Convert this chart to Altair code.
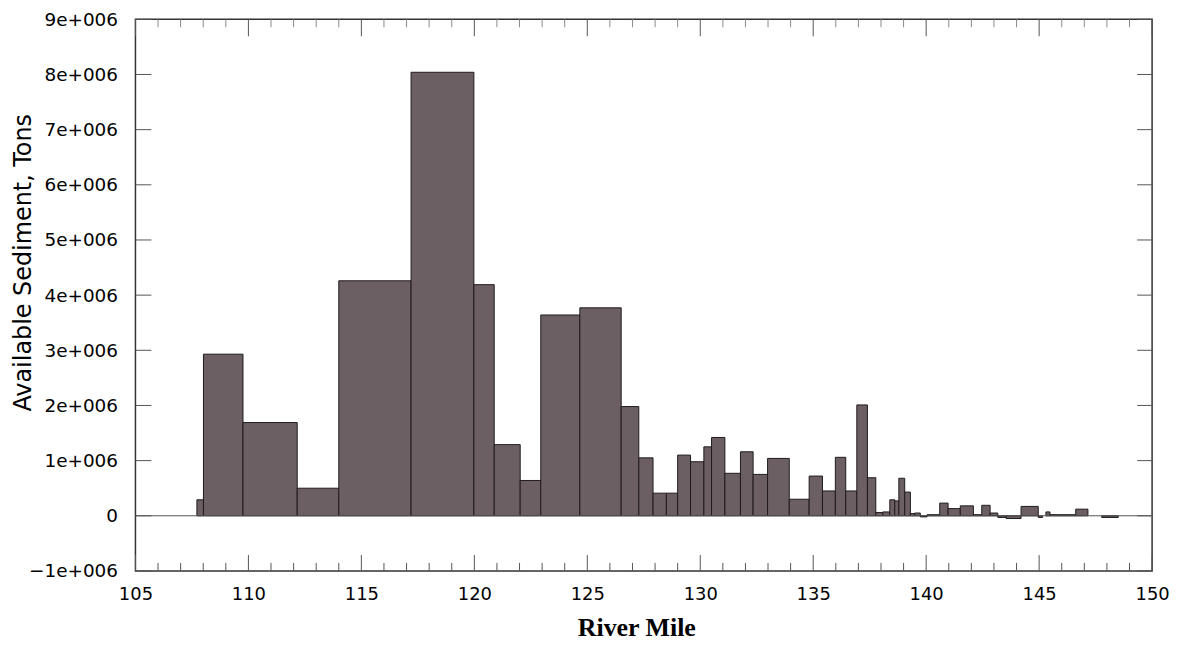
import altair as alt
import pandas as pd

# River-mile reach boundaries and available sediment (tons)
starts = [107.72, 108.01, 109.76, 112.16, 114.00, 117.20, 119.98, 120.88, 122.03, 122.94,
          124.67, 126.50, 127.28, 127.91, 128.50, 129.00, 129.57, 130.16, 130.50, 131.09,
          131.78, 132.34, 132.98, 133.94, 134.82, 135.41, 135.98, 136.44, 136.93, 137.40,
          137.77, 138.08, 138.39, 138.61, 138.79, 139.05, 139.30, 139.49, 139.74, 140.04,
          140.60, 140.97, 141.51, 142.09, 142.46, 142.83, 143.17, 143.54, 144.20, 144.96,
          145.30, 145.48, 146.62, 147.77]
ends = [108.01, 109.76, 112.16, 114.00, 117.20, 119.98, 120.88, 122.03, 122.94, 124.67,
        126.50, 127.28, 127.91, 128.50, 129.00, 129.57, 130.16, 130.50, 131.09, 131.78,
        132.34, 132.98, 133.94, 134.82, 135.41, 135.98, 136.44, 136.93, 137.40, 137.77,
        138.08, 138.39, 138.61, 138.79, 139.05, 139.30, 139.49, 139.74, 140.04, 140.60,
        140.97, 141.51, 142.09, 142.46, 142.83, 143.17, 143.54, 144.20, 144.96, 145.15,
        145.48, 146.62, 147.16, 148.50]
tons = [0.29e6, 2.93e6, 1.69e6, 0.50e6, 4.26e6, 8.04e6, 4.19e6, 1.29e6, 0.64e6, 3.64e6,
        3.77e6, 1.98e6, 1.05e6, 0.41e6, 0.41e6, 1.10e6, 0.98e6, 1.25e6, 1.42e6, 0.77e6,
        1.16e6, 0.75e6, 1.04e6, 0.30e6, 0.72e6, 0.45e6, 1.06e6, 0.45e6, 2.01e6, 0.69e6,
        0.06e6, 0.07e6, 0.29e6, 0.27e6, 0.68e6, 0.43e6, 0.04e6, 0.05e6, -0.02e6, 0.02e6,
        0.23e6, 0.13e6, 0.18e6, 0.02e6, 0.19e6, 0.05e6, -0.03e6, -0.05e6, 0.17e6, -0.03e6,
        0.07e6, 0.02e6, 0.12e6, -0.03e6]

x_label_values = [105, 110, 115, 120, 125, 130, 135, 140, 145, 150]
x_tick_miles = list(range(105, 151))
y_tick_values = [-1e6, 0, 1e6, 2e6, 3e6, 4e6, 5e6, 6e6, 7e6, 8e6, 9e6]

bars_df = pd.DataFrame({"start": starts, "end": ends, "tons": tons, "base": [0] * len(tons)})
xt_df = pd.DataFrame({"mile": x_tick_miles, "major": [1 if m % 5 == 0 else 0 for m in x_tick_miles]})
yt_df = pd.DataFrame({"v": y_tick_values})
zero_df = pd.DataFrame({"v": [0]})

W, H = 1021, 554
xs = alt.Scale(domain=[105, 150], nice=False, zero=False)
ys = alt.Scale(domain=[-1e6, 9e6], nice=False, zero=False)

x_axis = alt.Axis(values=x_label_values, format="d", labelFont="DejaVu Sans", labelFontSize=18,
                  labelColor="#000", labelPadding=15, ticks=False, tickSize=0, domain=False,
                  grid=False, labelFlush=False, title="River Mile", titleFont="Liberation Serif",
                  titleFontSize=26, titleFontWeight="bold", titleColor="#000", titleX=503,
                  titleY=65, titleAlign="center", titleBaseline="alphabetic")
y_axis = alt.Axis(values=y_tick_values,
                  labelExpr="datum.value == 0 ? '0' : replace(format(datum.value, '.0e'), 'e+', 'e+00')",
                  labelFont="DejaVu Sans", labelFontSize=18.5, labelColor="#000", labelPadding=18,
                  ticks=False, tickSize=0, domain=False, grid=False,
                  title="Available Sediment, Tons", titleFont="DejaVu Sans", titleFontSize=24,
                  titleFontWeight="normal", titleColor="#000", titleX=-105, titleY=244,
                  titleAlign="center", titleBaseline="alphabetic")

X_START = alt.X("start:Q", scale=xs, axis=x_axis, title="River Mile")
Y_TONS = alt.Y("tons:Q", scale=ys, axis=y_axis, title="Available Sediment, Tons")

bars = alt.Chart(bars_df).mark_rect(fill="#6c5f64", stroke="#1e1a1c", strokeWidth=1).encode(
    x=X_START,
    x2="end:Q",
    y=Y_TONS,
    y2="base:Q",
)

zero_line = alt.Chart(zero_df).mark_rule(color="#555", strokeWidth=1).encode(
    y=alt.Y("v:Q", scale=ys, axis=y_axis, title="Available Sediment, Tons"))

tick_color = "#555"
def xenc():
    return alt.X("mile:Q", scale=xs, axis=x_axis, title="River Mile")

bottom_major = alt.Chart(xt_df).transform_filter("datum.major == 1").mark_rule(color=tick_color).encode(
    x=xenc(), y=alt.value(H), y2=alt.value(H - 16))
bottom_minor = alt.Chart(xt_df).transform_filter("datum.major == 0").mark_rule(color=tick_color).encode(
    x=xenc(), y=alt.value(H), y2=alt.value(H - 8))
top_major = alt.Chart(xt_df).transform_filter("datum.major == 1").mark_rule(color=tick_color).encode(
    x=xenc(), y=alt.value(0), y2=alt.value(17))
top_minor = alt.Chart(xt_df).transform_filter("datum.major == 0").mark_rule(color="#888").encode(
    x=xenc(), y=alt.value(0), y2=alt.value(8))
left_ticks = alt.Chart(yt_df).mark_rule(color=tick_color).encode(
    y=alt.Y("v:Q", scale=ys, axis=y_axis, title="Available Sediment, Tons"),
    x=alt.value(0), x2=alt.value(16))
right_ticks = alt.Chart(yt_df).mark_rule(color=tick_color).encode(
    y=alt.Y("v:Q", scale=ys, axis=y_axis, title="Available Sediment, Tons"),
    x=alt.value(W - 15), x2=alt.value(W))

chart = alt.layer(bars, zero_line, bottom_major, bottom_minor, top_major, top_minor,
                  left_ticks, right_ticks).properties(
    width=W, height=H,
    padding={"left": 128, "top": 10, "right": 22, "bottom": 72},
    autosize=alt.AutoSizeParams(type="none"),
    background="white",
).configure_view(stroke="#333", strokeWidth=1.5)

chart.save("out.html", embed_options={"renderer": "svg", "actions": False})
